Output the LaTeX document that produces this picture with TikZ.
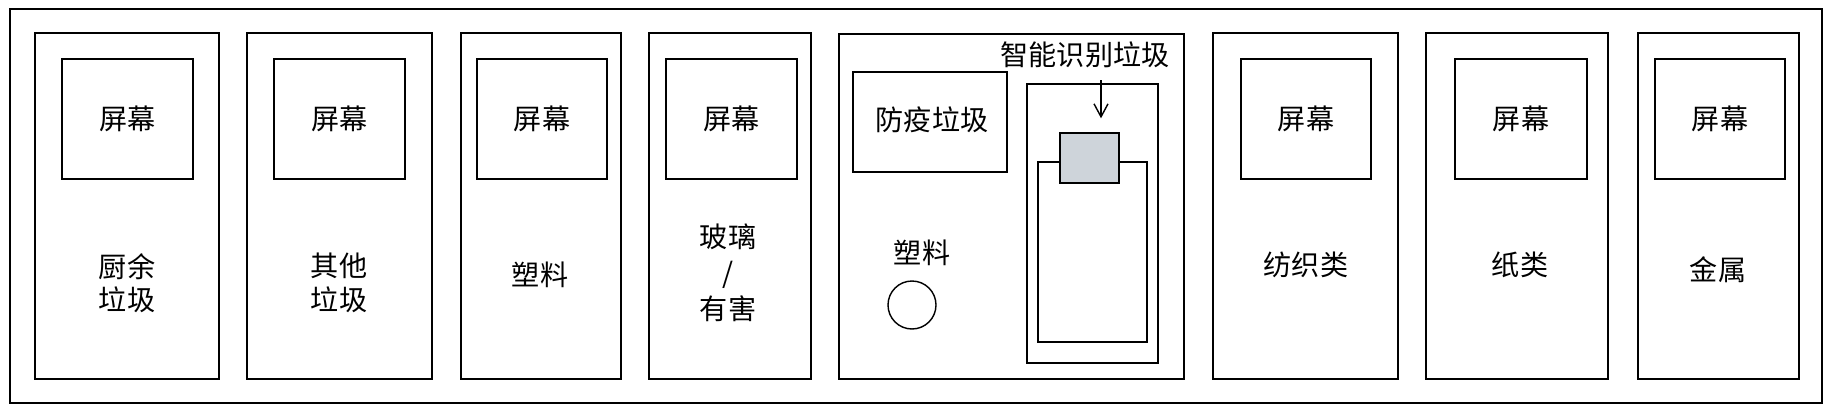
\documentclass[tikz,border=0pt]{standalone}
\usepackage{fontspec}
\setmainfont{Noto Sans CJK SC}
\usetikzlibrary{positioning,fit,arrows.meta}
\definecolor{sensorgray}{HTML}{CED4DA}

\begin{document}
\begin{tikzpicture}
[x=0.02cm,y=-0.02cm,>={Straight Barb[length=2.6mm,width=2.8mm]},
binbox/.style={draw,line width=0.8pt,inner sep=0pt},
sensorbox/.style={draw,fill=sensorgray,line width=0.8pt,inner sep=0pt},
txt/.style={inner sep=0pt,align=center,font=\fontsize{16pt}{19pt}\selectfont},]
\useasboundingbox (0,0) rectangle (1832,413);

%Outer frame
\node[binbox,fit={(10,9) (1822,403)}] (frame) {};

%Bins with screens
\foreach \n/\l/\r/\sl/\sr in {1/35/219/62/193, 2/247/432/274/405, 3/461/621/477/607, 4/649/811/666/797, 6/1213/1398/1241/1371, 7/1426/1608/1455/1587, 8/1638/1799/1655/1785}
{
\node[binbox,fit={(\l,33) (\r,379)}] (bin\n) {};
\node[binbox,fit={(\sl,59) (\sr,179)}] (screen\n) {};
\node[txt] (screentext\n) at (screen\n) {屏幕};
}

%Bin labels
\node[txt] (kitchen) at (127,283) {厨余\\垃圾};
\node[txt] (other) at (339,283) {其他\\垃圾};
\node[txt] (plastic) at (540,275) {塑料};
\node[txt,font=\fontsize{16pt}{20.5pt}\selectfont] (glass) at (728,273) {玻璃\\/\\有害};
\node[txt] (textile) at (1306,265) {纺织类};
\node[txt] (paper) at (1520,265) {纸类};
\node[txt] (metal) at (1718,270) {金属};

%Smart bin
\node[binbox,fit={(839,34) (1184,379)}] (bin5) {};
\node[binbox,fit={(853,72) (1007,172)}] (mask) {};
\node[txt] (masktext) at (932,120) {防疫垃圾};
\node[txt] (plastic2) at (922,253) {塑料};
\node[draw,circle,minimum size=0.96cm,inner sep=0pt,line width=0.8pt] (hole) at (912,305) {};
\node[txt] (smart) at (1085,55) {智能识别垃圾};
\node[binbox,fit={(1027,84) (1158,363)}] (smartbin) {};
\node[binbox,fit={(1038,162) (1147,342)}] (tray) {};
\node[sensorbox,fit={(1060,133) (1119,183)}] (sensor) {};

%Arrow to sensor
\coordinate (arrowtop) at (1101,80);
\draw[->,line width=0.8pt,shorten >=0.28cm] (arrowtop) -- (arrowtop |- sensor.north);
\end{tikzpicture}
\end{document}
